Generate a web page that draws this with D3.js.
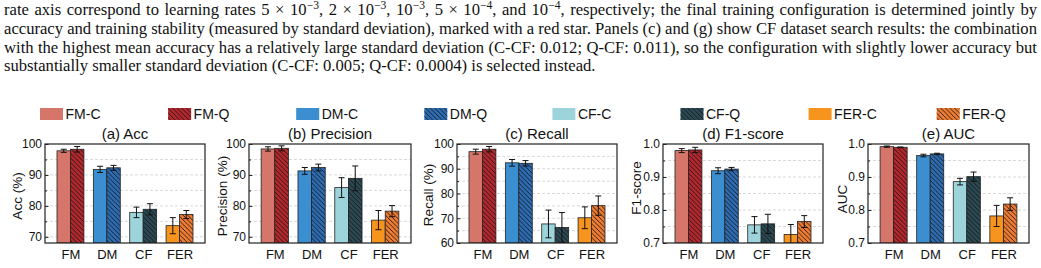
<!DOCTYPE html>
<html><head><meta charset="utf-8">
<script src="https://cdn.jsdelivr.net/npm/d3@7"></script>
<style>html,body{margin:0;padding:0;background:#fff;overflow:hidden}</style>
</head><body>
<script>
// ---------------- data ----------------
const datasets = ["FM", "DM", "CF", "FER"];
const legendLabels = ["FM-C", "FM-Q", "DM-C", "DM-Q", "CF-C", "CF-Q", "FER-C", "FER-Q"];
const colorsC = ["#D6766A", "#3B8ED0", "#9DD4DB", "#F7941D"];
const colorsQ = ["#B5282E", "#2E6DB4", "#2C4A54", "#F07C33"];

const accC = [97.8, 91.8, 77.9, 73.6];
const accCErr = [0.5, 1.0, 1.7, 2.6];
const accQ = [98.3, 92.3, 78.9, 77.2];
const accQErr = [0.9, 0.8, 1.8, 1.3];

const precC = [98.4, 91.3, 85.9, 75.4];
const precCErr = [0.7, 1.1, 3.2, 3.1];
const precQ = [98.6, 92.4, 88.9, 78.3];
const precQErr = [0.8, 1.1, 4.0, 1.8];

const recC = [96.9, 92.4, 67.7, 70.2];
const recCErr = [1.0, 1.35, 5.6, 4.4];
const recQ = [97.9, 92.2, 66.3, 75.1];
const recQErr = [1.1, 1.1, 6.0, 3.9];

const f1C = [0.980, 0.919, 0.755, 0.726];
const f1CErr = [0.006, 0.009, 0.025, 0.030];
const f1Q = [0.982, 0.924, 0.758, 0.765];
const f1QErr = [0.008, 0.005, 0.029, 0.018];

const aucC = [0.992, 0.965, 0.886, 0.782];
const aucCErr = [0.002, 0.004, 0.010, 0.032];
const aucQ = [0.990, 0.970, 0.901, 0.818];
const aucQErr = [0.001, 0.002, 0.014, 0.019];

const pctTicks = [70, 80, 90, 100];
const pctMinor = [70, 75, 80, 85, 90, 95];
const recTicks = [60, 70, 80, 90, 100];
const recMinor = [65, 70, 75, 80, 85, 90, 95];
const fracTicks = [0.7, 0.8, 0.9, 1.0];
const fracMinor = [0.75, 0.8, 0.85, 0.9, 0.95];

const captionLines = [
  ["rate axis correspond to learning rates 5 × 10", {sup: "−3"}, ", 2 × 10", {sup: "−3"}, ", 10", {sup: "−3"}, ", 5 × 10", {sup: "−4"}, ", and 10", {sup: "−4"}, ", respectively; the final training configuration is determined jointly by"],
  ["accuracy and training stability (measured by standard deviation), marked with a red star. Panels (c) and (g) show CF dataset search results: the combination"],
  ["with the highest mean accuracy has a relatively large standard deviation (C-CF: 0.012; Q-CF: 0.011), so the configuration with slightly lower accuracy but"],
  ["substantially smaller standard deviation (C-CF: 0.005; Q-CF: 0.0004) is selected instead."]
];

// ---------------- layout ----------------
const W = 1041, H = 268;
const plotTop = 144, plotBottom = 243;
const sans = "'Liberation Sans', Arial, Helvetica, sans-serif";

const panels = [
  {title: "(a) Acc", ylabel: "Acc (%)", x0: 45, x1: 205, domain: [68, 100], ticks: pctTicks, minor: pctMinor, fmt: d3.format("d"), C: accC, CE: accCErr, Q: accQ, QE: accQErr, labX: 17, labY: 196},
  {title: "(b) Precision", ylabel: "Precision (%)", x0: 249, x1: 411, domain: [68, 100], ticks: pctTicks, minor: pctMinor, fmt: d3.format("d"), C: precC, CE: precCErr, Q: precQ, QE: precQErr, labX: 222, labY: 196},
  {title: "(c) Recall", ylabel: "Recall (%)", x0: 457, x1: 617, domain: [60, 100], ticks: recTicks, minor: recMinor, fmt: d3.format("d"), C: recC, CE: recCErr, Q: recQ, QE: recQErr, labX: 428, labY: 195},
  {title: "(d) F1-score", ylabel: "F1-score", x0: 663, x1: 823, domain: [0.7, 1.0], ticks: fracTicks, minor: fracMinor, fmt: d3.format(".1f"), C: f1C, CE: f1CErr, Q: f1Q, QE: f1QErr, labX: 636, labY: 188},
  {title: "(e) AUC", ylabel: "AUC", x0: 868, x1: 1029, domain: [0.7, 1.0], ticks: fracTicks, minor: fracMinor, fmt: d3.format(".1f"), C: aucC, CE: aucCErr, Q: aucQ, QE: aucQErr, labX: 842, labY: 199}
];

const svg = d3.select("body").append("svg")
  .attr("width", W).attr("height", H)
  .attr("viewBox", `0 0 ${W} ${H}`);
svg.append("rect").attr("width", W).attr("height", H).attr("fill", "#fff");

const defs = svg.append("defs");
const hp = 4.6; // hatch period
const hatch = defs.append("pattern")
  .attr("id", "hatch").attr("patternUnits", "userSpaceOnUse")
  .attr("width", hp).attr("height", hp);
hatch.append("path")
  .attr("d", `M-1,-1 L${hp + 1},${hp + 1} M-1,${hp - 1} L1,${hp + 1} M${hp - 1},-1 L${hp + 1},1`)
  .attr("stroke", "#111").attr("stroke-width", 0.85).attr("fill", "none");

// ---------------- caption ----------------
const capG = svg.append("g").attr("font-family", "'Liberation Serif', 'Times New Roman', serif").attr("fill", "#111");
const capX = 4, capRight = 1037, capLastEnd = 596;
const capBase = [14.5, 33.5, 52.5, 71];
let capSize = 15;
function buildLine(g, parts, size) {
  const t = g.append("text").attr("x", capX).attr("font-size", size);
  const shift = size * 0.33;
  let pendingDown = 0;
  parts.forEach(p => {
    if (typeof p === "string") {
      const ts = t.append("tspan").text(p);
      if (pendingDown) { ts.attr("dy", pendingDown); pendingDown = 0; }
    } else {
      t.append("tspan").attr("dy", -shift).attr("font-size", size * 0.7).text(p.sup);
      pendingDown = shift;
    }
  });
  return t;
}
{
  const probe = buildLine(capG, captionLines[3], capSize);
  const len = probe.node().getComputedTextLength();
  capSize = capSize * (capLastEnd - capX) / len;
  probe.remove();
}
captionLines.forEach((parts, i) => {
  const t = buildLine(capG, parts, capSize).attr("y", capBase[i]);
  if (i < 3) {
    const len = t.node().getComputedTextLength();
    const txt = parts.map(p => typeof p === "string" ? p : "").join("");
    const spaces = (txt.match(/ /g) || []).length;
    t.attr("word-spacing", ((capRight - capX) - len) / spaces);
  }
});

// ---------------- legend ----------------
const legG = svg.append("g").attr("font-family", sans).attr("font-size", 14);
legendLabels.forEach((lab, i) => {
  const lx = 40 + i * 128.1;
  const ci = Math.floor(i / 2);
  const isQ = i % 2 === 1;
  legG.append("rect").attr("x", lx).attr("y", 108).attr("width", 23).attr("height", 12)
    .attr("fill", isQ ? colorsQ[ci] : colorsC[ci]);
  if (isQ) legG.append("rect").attr("x", lx).attr("y", 108).attr("width", 23).attr("height", 12)
    .attr("fill", "url(#hatch)");
  legG.append("text").attr("x", lx + 25.5).attr("y", 119).attr("fill", "#111").text(lab);
});

// ---------------- panels ----------------
const barW = 0.37;
panels.forEach((p, pi) => {
  const g = svg.append("g").attr("font-family", sans);
  const x = d3.scaleLinear().domain([-0.7, 3.7]).range([p.x0, p.x1]);
  const y = d3.scaleLinear().domain(p.domain).range([plotBottom, plotTop]);

  const clipId = "clip" + pi;
  defs.append("clipPath").attr("id", clipId).append("rect")
    .attr("x", p.x0).attr("y", plotTop).attr("width", p.x1 - p.x0).attr("height", plotBottom - plotTop);

  g.append("g").selectAll("line").data(p.minor).join("line")
    .attr("x1", p.x0).attr("x2", p.x1)
    .attr("y1", d => y(d)).attr("y2", d => y(d))
    .attr("stroke", "#cfcfcf").attr("stroke-width", 0.8).attr("stroke-dasharray", "3,2");

  const body = g.append("g").attr("clip-path", `url(#${clipId})`);
  body.selectAll("rect.c").data(p.C).join("rect").attr("class", "c")
    .attr("x", (d, i) => x(i - barW)).attr("width", (d, i) => x(i) - x(i - barW))
    .attr("y", d => y(d)).attr("height", d => plotBottom - y(d))
    .attr("fill", (d, i) => colorsC[i]).attr("stroke", "#222").attr("stroke-width", 0.8);
  body.selectAll("rect.q").data(p.Q).join("rect").attr("class", "q")
    .attr("x", (d, i) => x(i)).attr("width", (d, i) => x(i + barW) - x(i))
    .attr("y", d => y(d)).attr("height", d => plotBottom - y(d))
    .attr("fill", (d, i) => colorsQ[i]);
  body.selectAll("rect.qh").data(p.Q).join("rect").attr("class", "qh")
    .attr("x", (d, i) => x(i)).attr("width", (d, i) => x(i + barW) - x(i))
    .attr("y", d => y(d)).attr("height", d => plotBottom - y(d))
    .attr("fill", "url(#hatch)").attr("stroke", "#222").attr("stroke-width", 0.8);

  const errs = [];
  p.C.forEach((v, i) => errs.push({cx: x(i - barW / 2), v, e: p.CE[i]}));
  p.Q.forEach((v, i) => errs.push({cx: x(i + barW / 2), v, e: p.QE[i]}));
  const eg = body.append("g").attr("stroke", "#111").attr("stroke-width", 1);
  errs.forEach(d => {
    eg.append("line").attr("x1", d.cx).attr("x2", d.cx).attr("y1", y(d.v - d.e)).attr("y2", y(d.v + d.e));
    eg.append("line").attr("x1", d.cx - 3).attr("x2", d.cx + 3).attr("y1", y(d.v - d.e)).attr("y2", y(d.v - d.e));
    eg.append("line").attr("x1", d.cx - 3).attr("x2", d.cx + 3).attr("y1", y(d.v + d.e)).attr("y2", y(d.v + d.e));
  });

  g.append("rect").attr("x", p.x0).attr("y", plotTop).attr("width", p.x1 - p.x0).attr("height", plotBottom - plotTop)
    .attr("fill", "none").attr("stroke", "#222").attr("stroke-width", 1.2);

  const ya = g.append("g").attr("transform", `translate(${p.x0},0)`)
    .call(d3.axisLeft(y).tickValues(p.ticks).tickFormat(p.fmt).tickSize(-3.5).tickPadding(3));
  ya.select(".domain").remove();
  ya.selectAll("text").attr("font-size", 12).attr("fill", "#111").attr("font-family", sans);
  ya.selectAll("line").attr("stroke", "#222");
  const ym = g.append("g").attr("transform", `translate(${p.x0},0)`)
    .call(d3.axisLeft(y).tickValues(p.minor.filter(v => !p.ticks.includes(v))).tickFormat("").tickSize(-2));
  ym.select(".domain").remove();
  ym.selectAll("line").attr("stroke", "#222");

  const xa = g.append("g").attr("transform", `translate(0,${plotBottom})`)
    .call(d3.axisBottom(x).tickValues(d3.range(datasets.length)).tickFormat(i => datasets[i]).tickSize(0).tickPadding(7));
  xa.select(".domain").remove();
  xa.selectAll("text").attr("font-size", 13).attr("fill", "#111").attr("font-family", sans);

  g.append("text").attr("x", (p.x0 + p.x1) / 2).attr("y", 139).attr("text-anchor", "middle")
    .attr("font-size", 15).attr("fill", "#111").text(p.title);

  g.append("text").attr("transform", `translate(${p.labX},${p.labY}) rotate(-90)`)
    .attr("text-anchor", "middle").attr("dy", "0.35em")
    .attr("font-size", 13.5).attr("fill", "#111").text(p.ylabel);
});
</script>
</body></html>
